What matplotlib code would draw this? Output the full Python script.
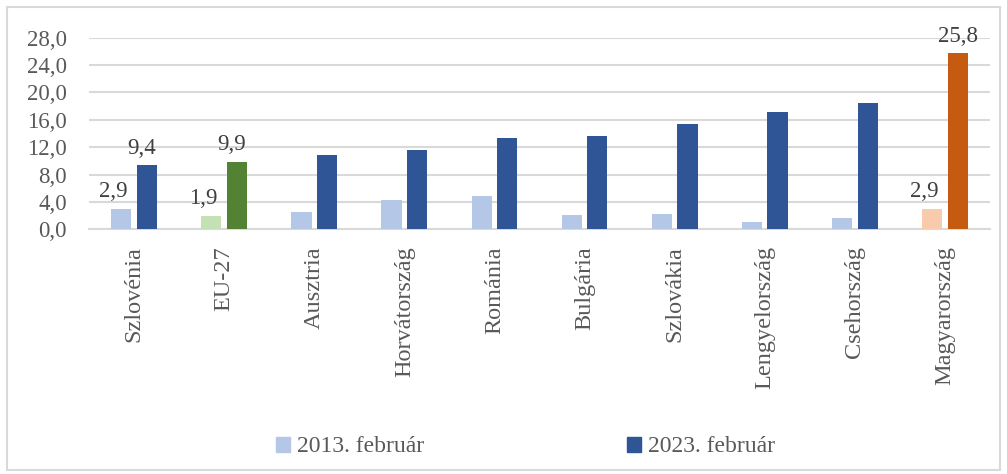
import matplotlib
matplotlib.use("Agg")
import matplotlib.pyplot as plt
from matplotlib.patches import Rectangle, Patch
import numpy as np

categories = ["Szlovénia", "EU-27", "Ausztria", "Horvátország", "Románia",
              "Bulgária", "Szlovákia", "Lengyelország", "Csehország", "Magyarország"]
values_2013 = [2.9, 1.9, 2.5, 4.3, 4.9, 2.1, 2.2, 1.1, 1.6, 2.9]
values_2023 = [9.4, 9.9, 10.9, 11.6, 13.3, 13.6, 15.4, 17.1, 18.4, 25.8]
series_names = ["2013. február", "2023. február"]
yticks = [0, 4, 8, 12, 16, 20, 24, 28]
labelled = ["Szlovénia", "EU-27", "Magyarország"]

light_colors = ["#B4C7E7"] * 10
dark_colors = ["#2F5597"] * 10
light_colors[1], dark_colors[1] = "#C5E0B4", "#548235"
light_colors[9], dark_colors[9] = "#F8CBAD", "#C55A11"

plt.rcParams['font.family'] = ['Liberation Serif', 'DejaVu Serif']
FS = 16.5
TXT = "#595959"

fig = plt.figure(figsize=(10.07, 4.74), dpi=100)
ax = fig.add_axes([89/1007, 1-229.3/474, (990-89)/1007, (229.3-37.7)/474])

x = np.arange(len(categories))
off = 0.142
w = 0.225
ax.bar(x - off, values_2013, w, color=light_colors, zorder=3)
ax.bar(x + off, values_2023, w, color=dark_colors, zorder=3)

ax.set_ylim(0, 28)
ax.set_xlim(-0.5, len(categories) - 0.5)
ax.set_yticks(yticks)
ax.set_yticklabels([f"{v:.1f}".replace(".", ",") for v in yticks])
ax.set_xticks(x)
ax.set_xticklabels(categories, rotation=90, va="top", ha="center")
ax.tick_params(axis="y", length=0, pad=16, labelsize=FS, labelcolor=TXT)
ax.tick_params(axis="x", length=0, pad=12, labelsize=17.5, labelcolor=TXT)
ax.grid(axis="y", color="#D9D9D9", linewidth=1.5, zorder=0)
ax.set_axisbelow(True)
for s in ["top", "right", "left"]:
    ax.spines[s].set_visible(False)
ax.spines["bottom"].set_color("#D9D9D9")
ax.spines["bottom"].set_linewidth(1.5)

for i, c in enumerate(categories):
    if c in labelled:
        ax.annotate(f"{values_2013[i]:.1f}".replace(".", ","), (x[i] - off, values_2013[i]),
                    xytext=(-6, 9), textcoords="offset points", ha="center", va="baseline",
                    fontsize=FS, color="#404040")
        dx = 0 if c == "Magyarország" else -4
        ax.annotate(f"{values_2023[i]:.1f}".replace(".", ","), (x[i] + off, values_2023[i]),
                    xytext=(dx, 8), textcoords="offset points", ha="center", va="baseline",
                    fontsize=FS, color="#404040")

handles = [Patch(color="#B4C7E7"), Patch(color="#2F5597")]
fig.legend(handles, series_names, loc="center left", bbox_to_anchor=(276/1007, 1-447/474),
           ncol=2, frameon=False, fontsize=17, labelcolor=TXT, handlelength=0.6,
           handleheight=0.6, handletextpad=0.28, columnspacing=8.6, borderpad=0,
           borderaxespad=0)

fig.patches.append(Rectangle((7/1007, 4/474), 993/1007, 463/474, transform=fig.transFigure,
                             fill=False, edgecolor="#D9D9D9", linewidth=1.5))

fig.savefig("out.png", dpi=100)
